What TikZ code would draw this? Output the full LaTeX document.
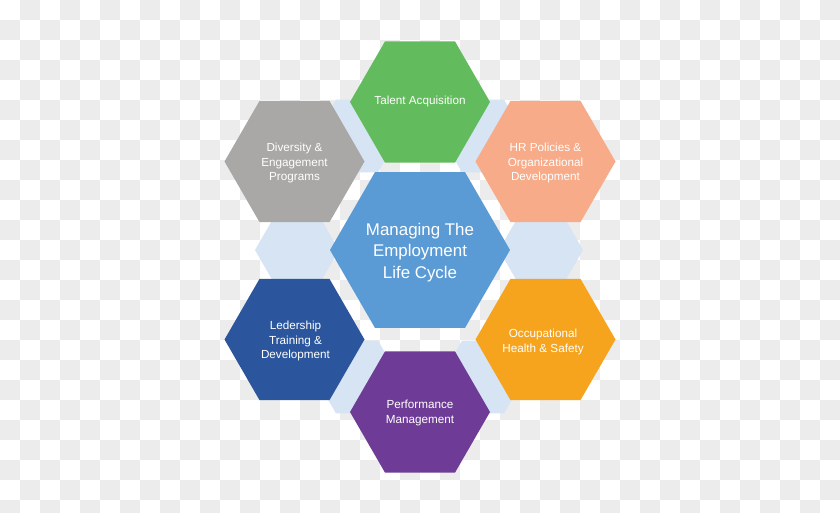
\documentclass[tikz,border=0pt]{standalone}
\usepackage{fontspec}
\setmainfont{Liberation Sans}
\usetikzlibrary{calc}
\definecolor{chkgray}{RGB}{236,236,236}
\definecolor{hexlight}{RGB}{214,228,244}
\definecolor{hexcore}{RGB}{91,155,213}
\definecolor{hexgreen}{RGB}{98,187,92}
\definecolor{hexgray}{RGB}{170,168,166}
\definecolor{hexsalmon}{RGB}{247,171,136}
\definecolor{hexnavy}{RGB}{43,85,156}
\definecolor{hexorange}{RGB}{246,163,30}
\definecolor{hexpurple}{RGB}{110,60,150}
\tikzset{
  hexlabel/.style={text=white, align=center, inner sep=0pt,
    font=\fontsize{11.7}{14.7}\selectfont},
  corelabel/.style={text=white, align=center, inner sep=0pt,
    font=\fontsize{16.9}{21.7}\selectfont},
  checker/.style={fill=chkgray}
}
% filled flat-top hexagon: centre, radius, colour
\newcommand{\hexfill}[3]{\fill[#3] (#1) +(0:#2) -- +(60:#2) -- +(120:#2)
  -- +(180:#2) -- +(240:#2) -- +(300:#2) -- cycle;}

\begin{document}
\begin{tikzpicture}[x=1pt, y=-1pt]
  \useasboundingbox (0,0) rectangle (840,512);
  \clip (0,0) rectangle (840,512);

  % checkerboard background
  \fill[white] (0,0) rectangle (840,512);
  \foreach \i in {0,...,41}
    \foreach \j in {0,...,25} {
      \pgfmathtruncatemacro\odd{mod(\i+\j,2)}
      \ifnum\odd=1 \fill[checker] (20*\i,20*\j) rectangle ++(20,20); \fi
    }

  % centres
  \coordinate (corec) at (420,250);
  \coordinate (talentc) at (420,102);
  \coordinate (diversityc) at (294.5,161.5);
  \coordinate (policyc) at (545.5,161.5);
  \coordinate (leadc) at (294.5,339.5);
  \coordinate (healthc) at (545.5,339.5);
  \coordinate (perfc) at (420,412);

  % light spacer hexagons
  \foreach \x/\y in {297/250, 541/250, 357/136, 483/136, 357/377, 483/377} {
    \coordinate (sp) at (\x,\y);
    \hexfill{sp}{42}{hexlight}
  }

  \hexfill{corec}{90}{hexcore}
  \hexfill{talentc}{70}{hexgreen}
  \hexfill{diversityc}{70}{hexgray}
  \hexfill{policyc}{70}{hexsalmon}
  \hexfill{leadc}{70}{hexnavy}
  \hexfill{healthc}{70}{hexorange}
  \hexfill{perfc}{70}{hexpurple}

  \node[corelabel] (core) at ($(corec)+(0,2.5)$) {Managing The\\Employment\\Life Cycle};
  \node[hexlabel] (talent) at ($(talentc)+(0,-1)$) {Talent Acquisition};
  \node[hexlabel] (diversity) at ($(diversityc)+(0,1.5)$) {Diversity \&\\Engagement\\Programs};
  \node[hexlabel] (policy) at ($(policyc)+(0,1.5)$) {HR Policies \&\\Organizational\\Development};
  \node[hexlabel] (lead) at ($(leadc)+(1,1.5)$) {Ledership\\Training \&\\Development};
  \node[hexlabel] (health) at ($(healthc)+(-2.5,2.5)$) {Occupational\\Health \& Safety};
  \node[hexlabel] (perf) at ($(perfc)+(0,1)$) {Performance\\Management};
\end{tikzpicture}
\end{document}
